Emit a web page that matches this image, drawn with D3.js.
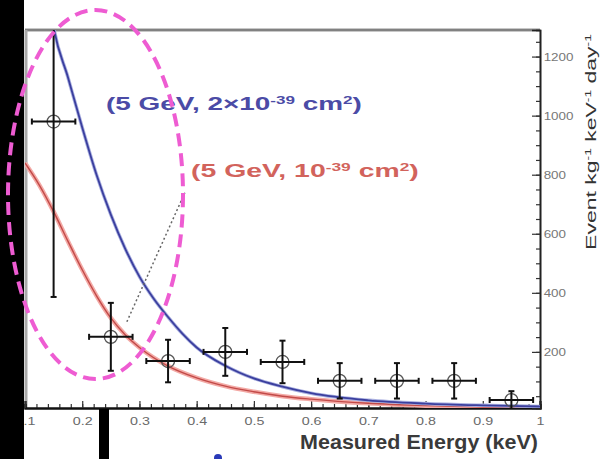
<!DOCTYPE html>
<html>
<head>
<meta charset="utf-8">
<script src="https://cdn.jsdelivr.net/npm/d3@7/dist/d3.min.js"></script>
<style>
  html, body { margin: 0; padding: 0; background: #fff; }
  svg { display: block; }
  text { font-family: "Liberation Sans", Arial, sans-serif; }
</style>
</head>
<body>
<svg id="chart" width="601" height="459"></svg>
<script>
// Measured event rate per energy bin (keV) with uncertainties
const binCenters = [0.15, 0.25, 0.35, 0.45, 0.55, 0.65, 0.75, 0.85, 0.95];
const rates      = [980, 251, 169, 200, 166, 102, 102, 102, 37];
const rateErrors = [594, 115, 72, 81, 72, 60, 60, 60, 30];
const binHalfWidth = 0.038;

// Expected spectrum for a 5 GeV WIMP, sigma = 2e-39 cm^2
const blueEnergy = [0.145, 0.15, 0.175, 0.2, 0.225, 0.25, 0.275, 0.3, 0.325, 0.35, 0.375, 0.4, 0.45, 0.5, 0.55, 0.6, 0.7, 0.8, 0.9, 1.0];
const blueRate   = [1360, 1300, 1130, 960, 800, 665, 550, 455, 380, 318, 262, 215, 153, 110, 82, 60, 36, 25, 19, 15];

// Expected spectrum for a 5 GeV WIMP, sigma = 1e-39 cm^2
const redEnergy = [0.1, 0.125, 0.15, 0.175, 0.2, 0.225, 0.25, 0.275, 0.3, 0.35, 0.4, 0.45, 0.5, 0.55, 0.6, 0.7, 0.8, 0.9, 1.0];
const redRate   = [840, 765, 675, 575, 478, 390, 315, 258, 215, 152, 112, 84, 65, 50, 40, 26, 18, 13, 11];

const xTicks = [0.1, 0.2, 0.3, 0.4, 0.5, 0.6, 0.7, 0.8, 0.9, 1];
const yTicks = [200, 400, 600, 800, 1000, 1200];
const xDomain = [0.1, 1.0];
const yDomain = [10, 1290];

const svg = d3.select("#chart");
const W = 601, H = 459;
const plot = { left: 25, right: 540, top: 30, bottom: 408 };

const x = d3.scaleLinear().domain(xDomain).range([plot.left, plot.right]);
const y = d3.scaleLinear().domain(yDomain).range([plot.bottom, plot.top]);

// stretch a text element horizontally (in its own frame) to a given width
function fitWidth(sel, width) {
  const bw = sel.node().getBBox().width;
  sel.attr("transform", `scale(${width / bw},1)`);
}

svg.append("rect").attr("width", W).attr("height", H).attr("fill", "#fff");

svg.append("defs").append("clipPath").attr("id", "plotClip")
  .append("rect")
  .attr("x", plot.left).attr("y", plot.top)
  .attr("width", plot.right - plot.left).attr("height", plot.bottom - plot.top);

// frame: top edge and left edge
svg.append("line")
  .attr("x1", plot.left).attr("x2", plot.right)
  .attr("y1", plot.top).attr("y2", plot.top)
  .attr("stroke", "#c8c8c8").attr("stroke-width", 4);
svg.append("line")
  .attr("x1", plot.left).attr("x2", plot.right)
  .attr("y1", plot.top).attr("y2", plot.top)
  .attr("stroke", "#6a6a6a").attr("stroke-width", 1.6);
svg.append("line")
  .attr("x1", plot.left + 1).attr("x2", plot.left + 1)
  .attr("y1", plot.top).attr("y2", plot.bottom)
  .attr("stroke", "#a9a9a9").attr("stroke-width", 3);

// bottom axis: minor then major ticks pointing into the plot
const xMinor = d3.range(0.1, 1.0001, 0.02).map(v => +v.toFixed(2));
const xMinorAxis = svg.append("g")
  .attr("transform", `translate(0,${plot.bottom})`)
  .call(d3.axisBottom(x).tickValues(xMinor).tickSize(-4).tickFormat(""));
const xAxis = svg.append("g")
  .attr("transform", `translate(0,${plot.bottom})`)
  .call(d3.axisBottom(x).tickValues(xTicks).tickSize(-7).tickPadding(9)
    .tickFormat(d => d === 1 ? "1" : d3.format(".1f")(d)));
[xMinorAxis, xAxis].forEach(g => {
  g.selectAll(".tick line").attr("stroke", "#333").attr("stroke-width", 1.2);
  g.select(".domain").attr("stroke", "#111").attr("stroke-width", 2.2);
});
xAxis.selectAll("text")
  .attr("font-size", 11).attr("fill", "#6a6a6a")
  .attr("transform", "scale(1.3,1)");

// right axis
const yMinor = d3.range(50, 1290, 50);
const yMinorAxis = svg.append("g")
  .attr("transform", `translate(${plot.right},0)`)
  .call(d3.axisRight(y).tickValues(yMinor).tickSize(-4).tickFormat(""));
const yAxis = svg.append("g")
  .attr("transform", `translate(${plot.right},0)`)
  .call(d3.axisRight(y).tickValues(yTicks).tickSize(-8).tickPadding(3).tickFormat(d3.format("d")));
[yMinorAxis, yAxis].forEach(g => {
  g.selectAll(".tick line").attr("stroke", "#333").attr("stroke-width", 1.2);
  g.select(".domain").attr("stroke", "#222").attr("stroke-width", 1.6);
});
yAxis.selectAll("text")
  .attr("font-size", 11).attr("fill", "#777")
  .attr("transform", "scale(1.22,1)");

// axis titles
const xTitle = svg.append("g").attr("transform", "translate(419,449)")
  .append("text")
  .attr("text-anchor", "middle")
  .attr("font-size", 20).attr("font-weight", "bold").attr("fill", "#3a3a3a")
  .text("Measured Energy (keV)");
fitWidth(xTitle, 238);

const yTitle = svg.append("g").attr("transform", "translate(596,142) rotate(-90)")
  .append("text")
  .attr("text-anchor", "middle")
  .attr("font-size", 15).attr("fill", "#333");
[["Event kg", null], ["-1", "sup"], [" keV", null], ["-1", "sup"], [" day", null], ["-1", "sup"]]
  .forEach(([t, kind]) => {
    const s = yTitle.append("tspan").text(t);
    if (kind === "sup") s.attr("font-size", 9).attr("baseline-shift", "super");
  });
fitWidth(yTitle, 216);

// model curves
const g = svg.append("g").attr("clip-path", "url(#plotClip)");
const line = d3.line().x(d => x(d[0])).y(d => y(d[1])).curve(d3.curveMonotoneX);

const redPts = redEnergy.map((e, i) => [e, redRate[i]]);
const bluePts = blueEnergy.map((e, i) => [e, blueRate[i]]);

g.append("path").datum(redPts).attr("d", line)
  .attr("fill", "none").attr("stroke", "#f3aaa6").attr("stroke-width", 4.5);
g.append("path").datum(redPts).attr("d", line)
  .attr("fill", "none").attr("stroke", "#c24a48").attr("stroke-width", 1.4);

g.append("path").datum(bluePts).attr("d", line)
  .attr("fill", "none").attr("stroke", "#aab0e0").attr("stroke-width", 3.5);
g.append("path").datum(bluePts).attr("d", line)
  .attr("fill", "none").attr("stroke", "#3b3f9e").attr("stroke-width", 1.8);

// data points with error bars
const pts = binCenters.map((e, i) => ({ e, r: rates[i], err: rateErrors[i] }));
const pg = g.selectAll("g.pt").data(pts).join("g").attr("class", "pt");
pg.append("circle")
  .attr("cx", d => x(d.e)).attr("cy", d => y(d.r)).attr("r", 6.5)
  .attr("fill", "none").attr("stroke", "#555").attr("stroke-width", 1.3);
pg.append("line")
  .attr("x1", d => x(d.e)).attr("x2", d => x(d.e))
  .attr("y1", d => y(d.r - d.err)).attr("y2", d => y(d.r + d.err))
  .attr("stroke", "#111").attr("stroke-width", 2);
pg.append("line")
  .attr("x1", d => x(d.e - binHalfWidth)).attr("x2", d => x(d.e + binHalfWidth))
  .attr("y1", d => y(d.r)).attr("y2", d => y(d.r))
  .attr("stroke", "#111").attr("stroke-width", 2);
// caps
pg.append("line")
  .attr("x1", d => x(d.e) - 3).attr("x2", d => x(d.e) + 3)
  .attr("y1", d => y(d.r - d.err)).attr("y2", d => y(d.r - d.err))
  .attr("stroke", "#111").attr("stroke-width", 2);
pg.append("line")
  .attr("x1", d => x(d.e) - 3).attr("x2", d => x(d.e) + 3)
  .attr("y1", d => y(d.r + d.err)).attr("y2", d => y(d.r + d.err))
  .attr("stroke", "#111").attr("stroke-width", 2);
pg.append("line")
  .attr("x1", d => x(d.e - binHalfWidth)).attr("x2", d => x(d.e - binHalfWidth))
  .attr("y1", d => y(d.r) - 3).attr("y2", d => y(d.r) + 3)
  .attr("stroke", "#111").attr("stroke-width", 2);
pg.append("line")
  .attr("x1", d => x(d.e + binHalfWidth)).attr("x2", d => x(d.e + binHalfWidth))
  .attr("y1", d => y(d.r) - 3).attr("y2", d => y(d.r) + 3)
  .attr("stroke", "#111").attr("stroke-width", 2);

// curve labels
function label(xp, yp, width, color, parts) {
  const t = svg.append("g").attr("transform", `translate(${xp},${yp})`)
    .append("text")
    .attr("font-size", 18).attr("font-weight", "bold").attr("fill", color);
  parts.forEach(([s, sup]) => {
    const ts = t.append("tspan").text(s);
    if (sup) ts.attr("font-size", 11).attr("baseline-shift", "super");
  });
  fitWidth(t, width);
}
label(106, 110, 256, "#4b4ba6", [["(5 GeV, 2×10", false], ["-39", true], [" cm", false], ["2", true], [")", false]]);
label(191, 177, 228, "#d2635c", [["(5 GeV, 10", false], ["-39", true], [" cm", false], ["2", true], [")", false]]);

// dotted pointer from the lower label down to the red curve
svg.append("line")
  .attr("x1", x(0.278)).attr("y1", y(302))
  .attr("x2", x(0.38)).attr("y2", y(742))
  .attr("stroke", "#666").attr("stroke-width", 1.5).attr("stroke-dasharray", "2,2.5");

// dark strip along the left edge
svg.append("rect").attr("x", 0).attr("y", 0).attr("width", 24).attr("height", H).attr("fill", "#000");
// dark bar below the axis and a small blue dot
svg.append("rect").attr("x", 99).attr("y", plot.bottom + 1).attr("width", 10).attr("height", H - plot.bottom).attr("fill", "#000");
svg.append("circle").attr("cx", 218).attr("cy", 458).attr("r", 4).attr("fill", "#2a3ab8");

// dashed highlight ellipse around the low-energy region
svg.append("ellipse")
  .attr("cx", 95.5).attr("cy", 194.5).attr("rx", 87.5).attr("ry", 184.5)
  .attr("fill", "none").attr("stroke", "#ee5cd2").attr("stroke-width", 4)
  .attr("stroke-dasharray", "13,7");
</script>
</body>
</html>
